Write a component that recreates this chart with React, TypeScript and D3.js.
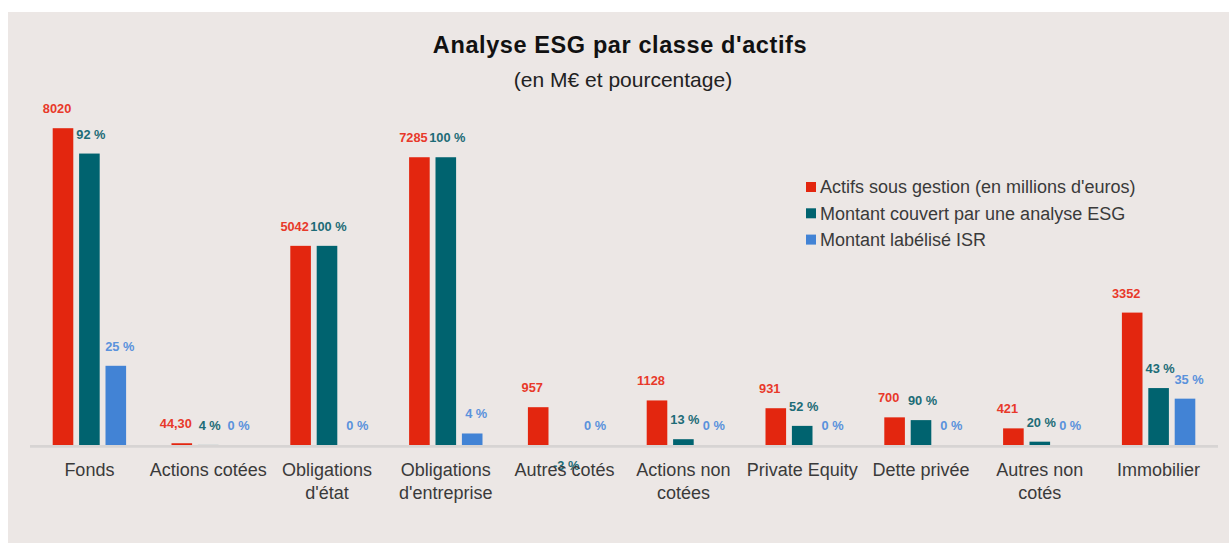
import { useEffect, useRef } from "react";
import * as d3 from "d3";

const categories = [
  "Fonds",
  "Actions cotées",
  "Obligations d'état",
  "Obligations d'entreprise",
  "Autres cotés",
  "Actions non cotées",
  "Private Equity",
  "Dette privée",
  "Autres non cotés",
  "Immobilier",
];
// actifs sous gestion, M€
const actifs = [8020, 44.3, 5042, 7285, 957, 1128, 931, 700, 421, 3352];
// part couverte par une analyse ESG, %
const pctEsg = [92, 4, 100, 100, -3, 13, 52, 90, 20, 43];
// part labélisée ISR, %
const pctIsr = [25, 0, 0, 4, 0, 0, 0, 0, 0, 35];

const seriesNames = [
  "Actifs sous gestion (en millions d'euros)",
  "Montant couvert par une analyse ESG",
  "Montant labélisé ISR",
];
const colors = ["#e3260f", "#00636f", "#4283d5"];
const labelColors = ["#e8392a", "#1d6c77", "#5a92dc"];

const W = 1229;
const H = 543;
const FONT = "'Liberation Sans', Arial, sans-serif";

const fmtActifs = (v: number) =>
  Number.isInteger(v) ? String(v) : v.toFixed(2).replace(".", ",");

const App = () => {
  const svgRef = useRef<SVGSVGElement>(null);

  useEffect(() => {
    const svg = d3.select(svgRef.current);
    svg.selectAll("*").remove();

    svg.append("rect").attr("width", W).attr("height", H).attr("fill", "#ffffff");
    svg.append("rect").attr("x", 8).attr("y", 12).attr("width", W - 8).attr("height", H - 12).attr("fill", "#ece7e5");

    // title
    svg.append("text").attr("x", 620).attr("y", 53).attr("text-anchor", "middle")
      .attr("font-family", FONT).attr("font-weight", "bold").attr("font-size", 23.5)
      .attr("letter-spacing", 0.6)
      .attr("fill", "#111").text("Analyse ESG par classe d'actifs");
    svg.append("text").attr("x", 623).attr("y", 87).attr("text-anchor", "middle")
      .attr("font-family", FONT).attr("font-size", 21)
      .attr("fill", "#222").text("(en M€ et pourcentage)");

    const x0 = d3.scaleBand().domain(categories).range([30, 1218]);
    const x1 = d3.scaleBand<number>().domain([0, 1, 2]).range([-36.7, 36.7]).paddingInner(0.22);
    const y = d3.scaleLinear().domain([0, 10000]).range([445, 50]);

    const rows = categories.map((c, i) => ({
      cat: c,
      vals: [actifs[i], (actifs[i] * pctEsg[i]) / 100, (actifs[i] * pctIsr[i]) / 100],
      labels: [fmtActifs(actifs[i]), pctEsg[i] + " %", pctIsr[i] + " %"],
    }));

    const groups = svg.selectAll("g.grp").data(rows).join("g")
      .attr("class", "grp")
      .attr("transform", (d) => `translate(${x0(d.cat)! + x0.bandwidth() / 2},0)`);

    groups.selectAll("rect").data((d) => d.vals.map((v, s) => ({ v, s })))
      .join("rect")
      .attr("x", (d) => x1(d.s)!)
      .attr("width", x1.bandwidth())
      .attr("y", (d) => Math.min(y(d.v), y(0)))
      .attr("height", (d) => Math.abs(y(0) - y(d.v)))
      .attr("fill", (d) => colors[d.s]);

    // baseline drawn over the bar feet
    svg.append("line").attr("x1", 30).attr("x2", 1218).attr("y1", y(0) + 1.4).attr("y2", y(0) + 1.4)
      .attr("stroke", "#d7d4d3").attr("stroke-width", 2.6);

    const labelDx = [-6, 1.5, 4];
    groups.selectAll("text.val").data((d) => d.vals.map((v, s) => ({ v, s, t: d.labels[s] })))
      .join("text")
      .attr("class", "val")
      .attr("x", (d) => x1(d.s)! + x1.bandwidth() / 2 + labelDx[d.s])
      .attr("y", (d) => (d.v < 0 ? y(d.v) + 19.5 : y(d.v) - 19.5))
      .attr("dy", "0.35em")
      .attr("text-anchor", "middle")
      .attr("font-family", FONT).attr("font-weight", "bold").attr("font-size", 12.8)
      .attr("fill", (d) => labelColors[d.s])
      .text((d) => d.t);

    // category labels with wrapping
    const maxW = 125;
    categories.forEach((c) => {
      const cx = x0(c)! + x0.bandwidth() / 2;
      const t = svg.append("text")
        .attr("x", cx)
        .attr("y", 476)
        .attr("text-anchor", "middle")
        .attr("font-family", FONT).attr("font-size", 18).attr("fill", "#3a3a3a");
      const words = c.split(" ");
      let line: string[] = [];
      let tspan = t.append("tspan").attr("x", cx).attr("dy", 0);
      words.forEach((w) => {
        line.push(w);
        tspan.text(line.join(" "));
        if ((tspan.node() as SVGTextContentElement).getComputedTextLength() > maxW && line.length > 1) {
          line.pop();
          tspan.text(line.join(" "));
          line = [w];
          tspan = t.append("tspan").attr("x", cx).attr("dy", 23).text(w);
        }
      });
    });

    // legend
    const legend = svg.append("g").attr("transform", "translate(806,187)");
    seriesNames.forEach((n, i) => {
      legend.append("rect").attr("x", 0).attr("y", i * 26.3 - 5).attr("width", 10).attr("height", 10)
        .attr("fill", colors[i]);
      legend.append("text").attr("x", 14).attr("y", i * 26.3).attr("dy", "0.35em")
        .attr("font-family", FONT).attr("font-size", 18).attr("fill", "#3a3a3a").text(n);
    });

    return () => {
      svg.selectAll("*").remove();
    };
  }, []);

  return (
    <svg
      ref={svgRef}
      width={W}
      height={H}
      style={{ position: "absolute", left: 0, top: 0, display: "block" }}
    />
  );
};

export default App;
